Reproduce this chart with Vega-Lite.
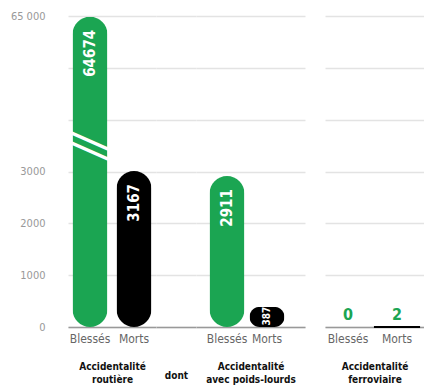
{
  "$schema": "https://vega.github.io/schema/vega-lite/v6.json",
  "padding": {"left": 10, "top": 10, "right": 0, "bottom": 2},
  "config": {"view": {"stroke": null}},
  "data": {"values": [
    {"groupe": "routiere", "cat": "Blessés", "valeur": 64674},
    {"groupe": "routiere", "cat": "Morts", "valeur": 3167},
    {"groupe": "poids", "cat": "Blessés", "valeur": 2911},
    {"groupe": "poids", "cat": "Morts", "valeur": 387},
    {"groupe": "ferro", "cat": "Blessés", "valeur": 0},
    {"groupe": "ferro", "cat": "Morts", "valeur": 2}
  ]},
  "spacing": 20,
  "hconcat": [
    {
      "spacing": 0,
      "hconcat": [
        {
          "width": 88, "height": 311,
          "transform": [{"filter": "datum.groupe == 'routiere'"}],
          "encoding": {
            "x": {"field": "cat", "type": "nominal", "sort": ["Blessés", "Morts"],
              "scale": {"paddingInner": 0.1, "paddingOuter": 0.05, "align": 0.5},
              "axis": {"labelAngle": 0, "ticks": false, "domain": true, "domainColor": "#999", "domainWidth": 1.5,
                "labelFont": "DejaVu Sans Condensed", "labelFontSize": 12, "labelColor": "#666", "labelPadding": 6,
                "title": ["Accidentalité", "routière"], "titleFont": "DejaVu Sans Condensed", "titleFontSize": 10,
                "titleFontWeight": "bold", "titleColor": "#111", "titlePadding": 17, "titleLineHeight": 13}},
            "y": {"field": "valeur", "type": "quantitative",
              "scale": {"domain": [0, 3000, 65000], "range": [311, 155.5, 0], "nice": false, "zero": false},
              "axis": {"values": [0, 1000, 2000, 3000, 23666.67, 44333.33, 65000],
                "labelExpr": "datum.value == 65000 ? '65 000' : (datum.value > 3000 ? '' : format(datum.value, 'd'))",
                "title": null, "domain": false, "ticks": false, "grid": true, "gridColor": "#e3e3e3", "gridWidth": 1.5,
                "labelFont": "DejaVu Sans Condensed", "labelFontSize": 11, "labelColor": "#999", "labelPadding": 23}}
          },
          "layer": [
            {"mark": {"type": "bar", "width": 35, "cornerRadius": 17.5},
              "encoding": {"color": {"field": "cat", "type": "nominal", "scale": {"domain": ["Blessés", "Morts"], "range": ["#1ba552", "#000000"]}, "legend": null}}},
            {"transform": [{"filter": "datum.valeur >= 1000"}],
              "mark": {"type": "text", "angle": 270, "align": "right", "baseline": "middle", "dx": -13, "font": "DejaVu Sans Condensed", "fontWeight": "bold", "fontSize": 15, "color": "white"},
              "encoding": {"text": {"field": "valeur", "type": "quantitative", "format": "d"}}},
            {"transform": [{"filter": "datum.cat == 'Blessés'"}],
              "mark": {"type": "text", "text": "—", "angle": 24, "align": "center", "baseline": "middle", "font": "DejaVu Sans", "fontSize": 46, "color": "white"},
              "encoding": {"y": {"datum": 15750, "type": "quantitative"}}},
            {"transform": [{"filter": "datum.cat == 'Blessés'"}],
              "mark": {"type": "text", "text": "—", "angle": 24, "align": "center", "baseline": "middle", "font": "DejaVu Sans", "fontSize": 46, "color": "white"},
              "encoding": {"y": {"datum": 11750, "type": "quantitative"}}}
          ]
        },
        {
          "width": 40, "height": 311,
          "data": {"values": [{"cat": "dont"}]},
          "mark": {"type": "text", "text": ""},
          "encoding": {
            "x": {"field": "cat", "type": "nominal",
              "axis": {"labels": false, "ticks": false, "domain": true, "domainColor": "#999", "domainWidth": 1.5,
                "title": "dont", "titleFont": "DejaVu Sans Condensed", "titleFontSize": 10,
                "titleFontWeight": "bold", "titleColor": "#111", "titlePadding": 43}},
            "y": {"datum": 0, "type": "quantitative",
              "scale": {"domain": [0, 3000, 65000], "range": [311, 155.5, 0], "nice": false, "zero": false},
              "axis": {"values": [0, 1000, 2000, 3000, 23666.67, 44333.33, 65000], "labels": false,
                "title": null, "domain": false, "ticks": false, "grid": true, "gridColor": "#e3e3e3", "gridWidth": 1.5}}
          }
        },
        {
          "width": 109, "height": 311,
          "transform": [{"filter": "datum.groupe == 'poids'"}],
          "encoding": {
            "x": {"field": "cat", "type": "nominal", "sort": ["Blessés", "Morts"],
              "scale": {"paddingInner": 0.1, "paddingOuter": 0.4125, "align": 0.394},
              "axis": {"labelAngle": 0, "ticks": false, "domain": true, "domainColor": "#999", "domainWidth": 1.5,
                "labelFont": "DejaVu Sans Condensed", "labelFontSize": 12, "labelColor": "#666", "labelPadding": 6,
                "title": ["Accidentalité", "avec poids-lourds"], "titleFont": "DejaVu Sans Condensed", "titleFontSize": 10,
                "titleFontWeight": "bold", "titleColor": "#111", "titlePadding": 17, "titleLineHeight": 13}},
            "y": {"field": "valeur", "type": "quantitative",
              "scale": {"domain": [0, 3000, 65000], "range": [311, 155.5, 0], "nice": false, "zero": false},
              "axis": {"values": [0, 1000, 2000, 3000, 23666.67, 44333.33, 65000], "labels": false,
                "title": null, "domain": false, "ticks": false, "grid": true, "gridColor": "#e3e3e3", "gridWidth": 1.5}}
          },
          "layer": [
            {"mark": {"type": "bar", "width": 35, "cornerRadius": 17.5},
              "encoding": {"color": {"field": "cat", "type": "nominal", "scale": {"domain": ["Blessés", "Morts"], "range": ["#1ba552", "#000000"]}, "legend": null}}},
            {"transform": [{"filter": "datum.valeur >= 1000"}],
              "mark": {"type": "text", "angle": 270, "align": "right", "baseline": "middle", "dx": -13, "font": "DejaVu Sans Condensed", "fontWeight": "bold", "fontSize": 15, "color": "white"},
              "encoding": {"text": {"field": "valeur", "type": "quantitative", "format": "d"}}},
            {"transform": [{"filter": "datum.valeur >= 100 && datum.valeur < 1000"}],
              "mark": {"type": "text", "angle": 270, "align": "left", "baseline": "middle", "dx": 1.5, "font": "DejaVu Sans Condensed", "fontWeight": "bold", "fontSize": 10, "color": "white"},
              "encoding": {"y": {"datum": 0, "type": "quantitative"}, "text": {"field": "valeur", "type": "quantitative", "format": "d"}}}
          ]
        }
      ]
    },
    {
      "width": 99, "height": 311,
      "transform": [{"filter": "datum.groupe == 'ferro'"}],
      "encoding": {
        "x": {"field": "cat", "type": "nominal", "sort": ["Blessés", "Morts"],
          "scale": {"paddingInner": 0.1, "paddingOuter": 0.06, "align": 0.16},
          "axis": {"labelAngle": 0, "ticks": false, "domain": true, "domainColor": "#999", "domainWidth": 1.5,
            "labelFont": "DejaVu Sans Condensed", "labelFontSize": 12, "labelColor": "#666", "labelPadding": 6,
            "title": ["Accidentalité", "ferroviaire"], "titleFont": "DejaVu Sans Condensed", "titleFontSize": 10,
            "titleFontWeight": "bold", "titleColor": "#111", "titlePadding": 17, "titleLineHeight": 13}},
        "y": {"field": "valeur", "type": "quantitative",
          "scale": {"domain": [0, 3000, 65000], "range": [311, 155.5, 0], "nice": false, "zero": false},
          "axis": {"values": [0, 1000, 2000, 3000, 23666.67, 44333.33, 65000], "labels": false,
            "title": null, "domain": false, "ticks": false, "grid": true, "gridColor": "#e3e3e3", "gridWidth": 1.5}}
      },
      "layer": [
        {"mark": {"type": "bar", "strokeWidth": 2},
          "encoding": {
            "color": {"field": "cat", "type": "nominal", "scale": {"domain": ["Blessés", "Morts"], "range": ["#1ba552", "#000000"]}, "legend": null},
            "stroke": {"field": "cat", "type": "nominal", "scale": {"domain": ["Blessés", "Morts"], "range": ["#1ba552", "#000000"]}, "legend": null},
            "strokeOpacity": {"condition": {"test": "datum.valeur > 0", "value": 1}, "value": 0}}},
        {"mark": {"type": "text", "baseline": "bottom", "dy": -4, "font": "DejaVu Sans Condensed", "fontWeight": "bold", "fontSize": 16, "color": "#1ba552"},
          "encoding": {"text": {"field": "valeur", "type": "quantitative", "format": "d"}}}
      ]
    }
  ]
}
